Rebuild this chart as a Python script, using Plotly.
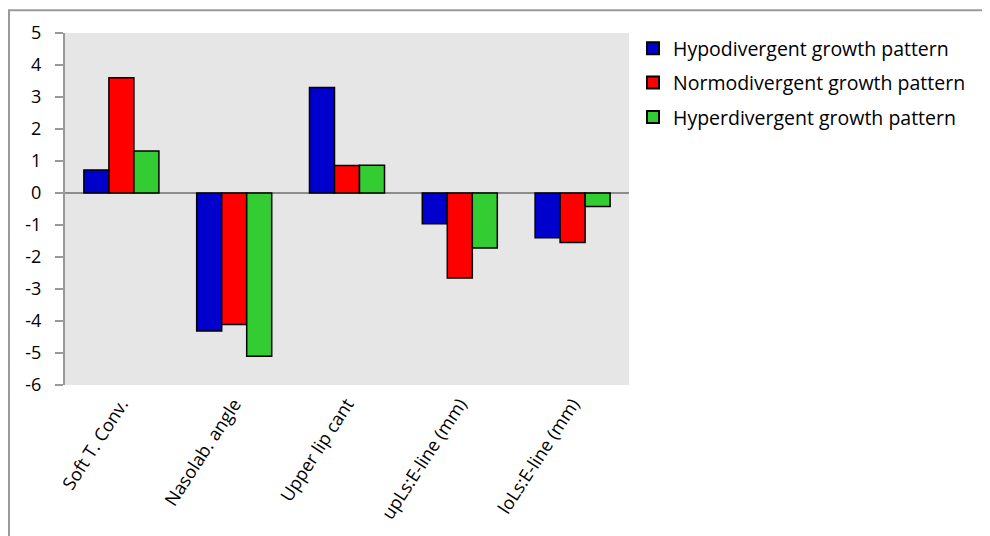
import plotly.graph_objects as go

categories = ["Soft T. Conv.", "Nasolab. angle", "Upper lip cant", "upLs:E-line (mm)", "loLs:E-line (mm)"]
hypo = [0.72, -4.31, 3.30, -0.96, -1.40]
normo = [3.60, -4.11, 0.86, -2.66, -1.55]
hyper = [1.31, -5.10, 0.87, -1.72, -0.42]
series_names = ["Hypodivergent growth pattern", "Normodivergent growth pattern", "Hyperdivergent growth pattern"]
colors = ["#0000CC", "#FF0000", "#33CC33"]
y_ticks = [5, 4, 3, 2, 1, 0, -1, -2, -3, -4, -5, -6]
y_tick_text = [str(v) for v in y_ticks]

OFF = 8  # page body margin
W, H = 990 - OFF, 536 - OFF
L, R, T, B = 65 - OFF, 629 - OFF, 32 - OFF, 388 - OFF

fig = go.Figure()
for i, (name, vals, col) in enumerate(zip(series_names, [hypo, normo, hyper], colors)):
    fig.add_trace(go.Bar(x=categories, y=vals, name=name, legendgroup=f"g{i}",
                         marker=dict(color=col, line=dict(color="#000000", width=1.5))))

def px_x(p):
    return (p - OFF - L) / (R - L)

def px_y(p):
    return (B - (p - OFF)) / (B - T)

fig.add_shape(type="rect", xref="paper", yref="paper",
              x0=px_x(9), x1=px_x(1000), y0=px_y(545), y1=px_y(9),
              line=dict(color="#999999", width=2), fillcolor="rgba(0,0,0,0)", layer="below")

font_family = "Open Sans, Liberation Sans, sans-serif"
fig.update_layout(
    width=W, height=H,
    margin=dict(l=L, r=W - R, t=T, b=H - B, pad=0),
    paper_bgcolor="white", plot_bgcolor="#E6E6E6",
    barmode="group", bargap=0.335, bargroupgap=0,
    font=dict(family=font_family, size=16, color="#000000"),
    showlegend=True,
    legend=dict(x=px_x(633), y=px_y(28), xanchor="left", yanchor="top",
                font=dict(size=19.5), itemsizing="constant", tracegroupgap=6,
                bgcolor="rgba(0,0,0,0)"),
    xaxis=dict(tickangle=-57, showgrid=False, showline=False, ticks="",
               ticklabelstandoff=4,
               tickfont=dict(size=18)),
    yaxis=dict(range=[-6, 5], tickvals=y_ticks, ticktext=y_tick_text, showgrid=False, zeroline=True,
               zerolinecolor="#8C8C8C", zerolinewidth=2,
               showline=True, linecolor="#999999", linewidth=2,
               ticks="outside", ticklen=8, tickcolor="#999999", tickwidth=2,
               ticklabelstandoff=10,
               tickfont=dict(size=18)),
)
fig.write_html("out.html")
